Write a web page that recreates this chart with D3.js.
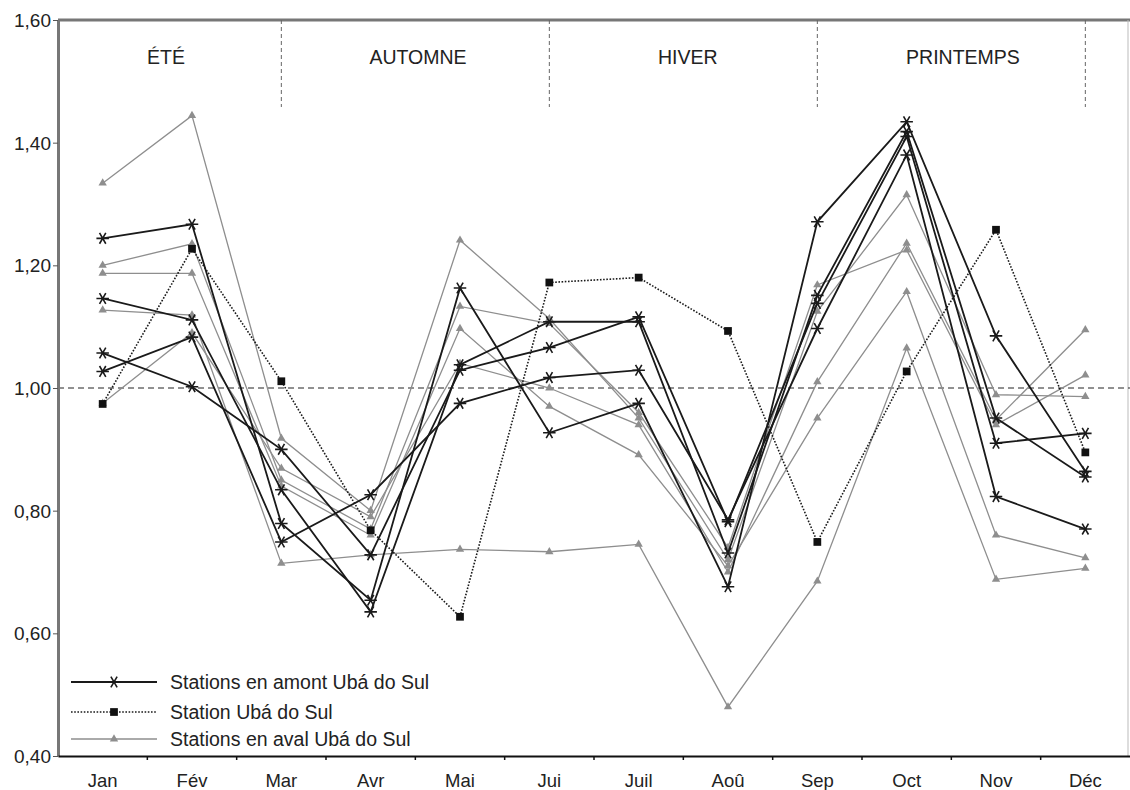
<!DOCTYPE html>
<html><head><meta charset="utf-8">
<script src="https://cdn.jsdelivr.net/npm/d3@7"></script>
<style>
html,body{margin:0;padding:0;background:#fff;}
text{font-family:"Liberation Sans",Arial,sans-serif;fill:#222;}
</style></head>
<body>
<svg id="chart" width="1130" height="790"></svg>
<script>
const months = ["Jan","Fév","Mar","Avr","Mai","Jui","Juil","Aoû","Sep","Oct","Nov","Déc"];
const yTicks = [0.40,0.60,0.80,1.00,1.20,1.40,1.60];
const seasons = ["ÉTÉ","AUTOMNE","HIVER","PRINTEMPS"];
const seasonDividers = ["Mar","Jui","Sep","Déc"];
const legendLabels = ["Stations en amont Ubá do Sul","Station Ubá do Sul","Stations en aval Ubá do Sul"];

// Stations en amont (upstream)
const amont1 = [1.244,1.267,0.779,0.654,1.163,0.927,0.975,0.676,1.271,1.434,1.085,0.864];
const amont2 = [1.146,1.111,0.834,0.635,1.038,1.108,1.108,0.731,1.151,1.418,0.951,0.855];
const amont3 = [1.057,1.002,0.900,0.728,1.029,1.066,1.116,0.782,1.138,1.410,0.910,0.926];
const amont4 = [1.027,1.083,0.749,0.826,0.975,1.017,1.029,0.785,1.097,1.380,0.823,0.770];
// Station Ubá do Sul
const uba = [0.974,1.227,1.011,0.768,0.627,1.172,1.180,1.093,0.749,1.027,1.258,0.895];
// Stations en aval (downstream)
const aval1 = [1.334,1.444,0.918,0.800,1.241,1.113,0.951,0.720,1.125,1.315,0.989,0.986];
const aval2 = [1.200,1.235,0.850,0.770,1.133,1.105,0.960,0.740,1.168,1.225,0.940,1.021];
const aval3 = [1.187,1.187,0.840,0.760,1.097,0.970,0.891,0.710,0.951,1.157,0.760,0.723];
const aval4 = [0.975,1.090,0.869,0.790,1.040,1.000,0.940,0.700,1.010,1.236,0.948,1.095];
const aval5 = [1.127,1.119,0.714,0.728,0.737,0.733,0.745,0.480,0.685,1.065,0.688,0.706];

const amont = [amont1,amont2,amont3,amont4];
const aval = [aval1,aval2,aval3,aval4,aval5];

const L = 58, R = 1130, T = 20, B = 756;
const FONT = "Liberation Sans, Arial, sans-serif";
const svg = d3.select("#chart");
const x = d3.scaleBand().domain(months).range([L,R]).padding(0);
const cx = m => x(m) + x.bandwidth()/2;
const y = d3.scaleLinear().domain([0.40,1.60]).range([B,T]);
const fmt = v => v.toFixed(2).replace(".",",");

// frame: top and right
svg.append("line").attr("x1",L).attr("x2",R).attr("y1",T).attr("y2",T)
  .attr("stroke","#777").attr("stroke-width",3);
svg.append("line").attr("x1",R-2).attr("x2",R-2).attr("y1",T).attr("y2",B)
  .attr("stroke","#bbb").attr("stroke-width",1);

// season dividers
svg.selectAll(".div").data(seasonDividers).enter().append("line")
  .attr("x1",d=>cx(d)).attr("x2",d=>cx(d)).attr("y1",T).attr("y2",107)
  .attr("stroke","#666").attr("stroke-width",1).attr("stroke-dasharray","4,3");
const seasonPos = [1.21,4.03,7.05,10.13];
svg.selectAll(".season").data(seasons).enter().append("text")
  .attr("x",(d,i)=>L + seasonPos[i]*x.step()).attr("y",64)
  .attr("text-anchor","middle").attr("font-size",19.5).text(d=>d);

// reference line at 1.00
svg.append("line").attr("x1",L).attr("x2",R).attr("y1",y(1)).attr("y2",y(1))
  .attr("stroke","#222").attr("stroke-width",1).attr("stroke-dasharray","6,4");

// y axis
const yAxis = d3.axisLeft(y).tickValues(yTicks).tickFormat(fmt).tickSize(5).tickSizeOuter(0);
const gy = svg.append("g").attr("transform",`translate(${L},0)`).call(yAxis);
gy.select(".domain").attr("stroke","#777").attr("stroke-width",3);
gy.selectAll(".tick line").attr("stroke","#555");
gy.selectAll(".tick text").attr("font-size",19).attr("fill","#222")
  .attr("font-family",FONT).attr("x",-7).attr("dy","0.35em");

// x axis
const xAxis = d3.axisBottom(x).tickSize(0).tickSizeOuter(0);
const gx = svg.append("g").attr("transform",`translate(0,${B})`).call(xAxis);
gx.select(".domain").attr("stroke","#111").attr("stroke-width",2);
gx.selectAll(".tick text").attr("font-size",18.5).attr("fill","#222")
  .attr("font-family",FONT).attr("y",31).attr("dy",0);
svg.selectAll(".xt").data(months.slice(1)).enter().append("line")
  .attr("x1",d=>x(d)).attr("x2",d=>x(d)).attr("y1",B).attr("y2",B+4)
  .attr("stroke","#111").attr("stroke-width",1.5);

const line = d3.line().x((d,i)=>cx(months[i])).y(d=>y(d));
const tri = d3.symbol().type(d3.symbolTriangle).size(30);
const sq = d3.symbol().type(d3.symbolSquare).size(60);
const ast = d3.symbol().type(d3.symbolAsterisk).size(110);

// aval (gray) first
aval.forEach(s=>{
  svg.append("path").datum(s).attr("d",line).attr("fill","none")
    .attr("stroke","#8e8e8e").attr("stroke-width",1.3);
  svg.selectAll(null).data(s).enter().append("path")
    .attr("transform",(d,i)=>`translate(${cx(months[i])},${y(d)})`)
    .attr("d",tri).attr("fill","#8e8e8e");
});
// amont (black)
amont.forEach(s=>{
  svg.append("path").datum(s).attr("d",line).attr("fill","none")
    .attr("stroke","#1a1a1a").attr("stroke-width",1.8);
  svg.selectAll(null).data(s).enter().append("path")
    .attr("transform",(d,i)=>`translate(${cx(months[i])},${y(d)}) rotate(90)`)
    .attr("d",ast).attr("fill","none").attr("stroke","#1a1a1a").attr("stroke-width",1.6);
});
// Ubá do Sul (dotted)
svg.append("path").datum(uba).attr("d",line).attr("fill","none")
  .attr("stroke","#1a1a1a").attr("stroke-width",1.6).attr("stroke-dasharray","1.6,1.6");
svg.selectAll(null).data(uba).enter().append("path")
  .attr("transform",(d,i)=>`translate(${cx(months[i])},${y(d)})`)
  .attr("d",sq).attr("fill","#111");

// legend
const lg = svg.append("g");
const ly = [682,712,739];
const lstyles = [
  {stroke:"#1a1a1a",w:1.8,dash:null,sym:ast,fill:"none",rot:90,sw:1.6},
  {stroke:"#1a1a1a",w:1.6,dash:"1.6,1.6",sym:sq,fill:"#111",rot:0,sw:0},
  {stroke:"#8e8e8e",w:1.3,dash:null,sym:tri,fill:"#8e8e8e",rot:0,sw:0}
];
legendLabels.forEach((t,i)=>{
  const st = lstyles[i];
  lg.append("line").attr("x1",71).attr("x2",157).attr("y1",ly[i]).attr("y2",ly[i])
    .attr("stroke",st.stroke).attr("stroke-width",st.w).attr("stroke-dasharray",st.dash);
  lg.append("path").attr("transform",`translate(114,${ly[i]}) rotate(${st.rot})`)
    .attr("d",st.sym).attr("fill",st.fill).attr("stroke",st.fill==="none"?st.stroke:null)
    .attr("stroke-width",st.sw||null);
  lg.append("text").attr("x",170).attr("y",ly[i]+7).attr("font-size",19.5).text(t);
});
</script>
</body></html>
